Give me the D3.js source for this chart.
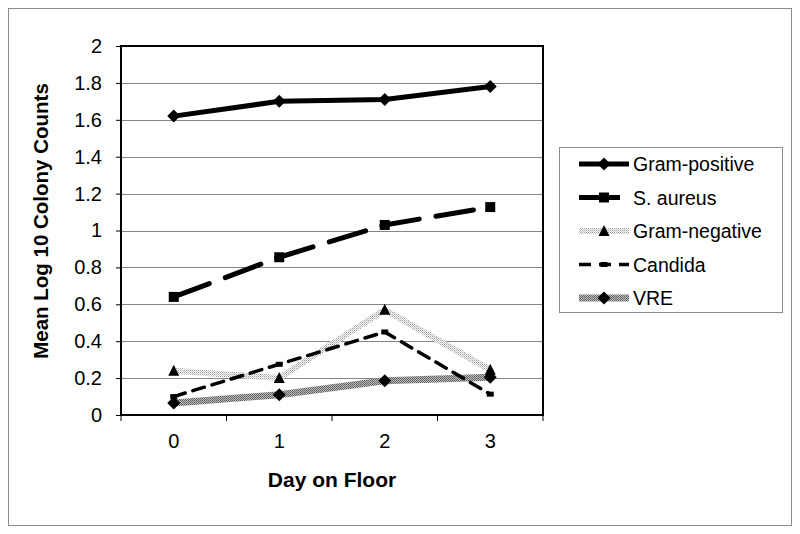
<!DOCTYPE html>
<html><head><meta charset="utf-8">
<script src="https://cdn.jsdelivr.net/npm/d3@7"></script>
<style>body{margin:0;background:#fff}svg{display:block;font-family:"Liberation Sans",Arial,sans-serif}</style>
</head><body><svg id="c" width="800" height="534"></svg>
<script>
const days = ["0","1","2","3"];
const yTicks = [0,0.2,0.4,0.6,0.8,1,1.2,1.4,1.6,1.8,2];
const seriesNames = ["Gram-positive","S. aureus","Gram-negative","Candida","VRE"];
const gramPositive = [1.62,1.70,1.71,1.78];
const sAureus = [0.64,0.855,1.03,1.127];
const gramNegative = [0.24,0.20,0.57,0.245];
const candida = [0.10,0.275,0.45,0.113];
const vre = [0.065,0.11,0.186,0.204];

const svg = d3.select("#c");
const defs = svg.append("defs");
const p1 = defs.append("pattern").attr("id","pDots").attr("patternUnits","userSpaceOnUse").attr("width",2).attr("height",2);
p1.append("rect").attr("width",2).attr("height",2).attr("fill","#ffffff");
p1.append("rect").attr("width",1).attr("height",1).attr("fill","#9a9a9a");
p1.append("rect").attr("x",1).attr("y",1).attr("width",1).attr("height",1).attr("fill","#c8c8c8");
const p2 = defs.append("pattern").attr("id","pDense").attr("patternUnits","userSpaceOnUse").attr("width",2).attr("height",2);
p2.append("rect").attr("width",2).attr("height",2).attr("fill","#bdbdbd");
p2.append("rect").attr("width",1).attr("height",1).attr("fill","#5a5a5a");
p2.append("rect").attr("x",1).attr("y",1).attr("width",1).attr("height",1).attr("fill","#6a6a6a");

// outer border
svg.append("rect").attr("x",8.5).attr("y",8.5).attr("width",783).attr("height",517)
  .attr("fill","none").attr("stroke","#8c8c8c").attr("stroke-width",1);

const L=121, R=543, T=46, B=415;
const x = d3.scaleBand().domain(days).range([L,R]);
const y = d3.scaleLinear().domain([0,2]).range([B,T]);

// gridlines
svg.append("g").selectAll("line").data(yTicks.filter(v=>v>0&&v<2)).join("line")
  .attr("x1",L).attr("x2",R).attr("y1",d=>Math.round(y(d))+0.5).attr("y2",d=>Math.round(y(d))+0.5)
  .attr("stroke","#858585").attr("stroke-width",1);

// y axis
const yAxis = d3.axisLeft(y).tickValues(yTicks).tickSize(5).tickPadding(14).tickFormat(d=>String(d));
const gy = svg.append("g").attr("transform",`translate(${L},0)`).call(yAxis);
gy.select(".domain").remove();
gy.selectAll("line").attr("stroke","#000");
gy.selectAll("text").attr("font-size","20px").attr("fill","#000").attr("font-family","Liberation Sans, Arial, sans-serif");

// x axis
const xAxis = d3.axisBottom(x).tickSize(0).tickPadding(19);
const gx = svg.append("g").attr("transform",`translate(0,${B})`).call(xAxis);
gx.select(".domain").remove();
gx.selectAll("text").attr("font-size","20px").attr("fill","#000").attr("font-family","Liberation Sans, Arial, sans-serif");
// x ticks at category boundaries
const bounds = days.map(d=>x(d)).concat([x(days[days.length-1])+x.bandwidth()]);
svg.append("g").selectAll("line").data(bounds).join("line")
  .attr("x1",d=>d).attr("x2",d=>d).attr("y1",B).attr("y2",B+6).attr("stroke","#000");

// plot border
svg.append("rect").attr("x",L).attr("y",T).attr("width",R-L).attr("height",B-T)
  .attr("fill","none").attr("stroke","#000").attr("stroke-width",2);

// titles
svg.append("text").attr("x",(L+R)/2).attr("y",487).attr("text-anchor","middle")
  .attr("font-size","21px").attr("font-weight","bold").text("Day on Floor");
svg.append("text").attr("transform","translate(48,221) rotate(-90)").attr("text-anchor","middle")
  .attr("font-size","20.5px").attr("font-weight","bold").text("Mean Log 10 Colony Counts");

const cx = d=>x(d)+x.bandwidth()/2;
const line = d3.line().x((v,i)=>cx(days[i])).y(v=>y(v));

const styles = [
  {vals:gramPositive, stroke:"#000", w:5, dash:null, marker:"diamond", ms:13},
  {vals:sAureus, stroke:"#000", w:5, dash:"38,17", marker:"square", ms:10},
  {vals:gramNegative, stroke:"url(#pDots)", w:6, dash:null, marker:"triangle", ms:11},
  {vals:candida, stroke:"#000", w:3.5, dash:"12,8", marker:"dash", ms:7},
  {vals:vre, stroke:"url(#pDense)", w:7, dash:null, marker:"diamond", ms:13}
];

function drawMarker(g, type, px, py, s){
  if(type==="diamond"){
    g.append("path").attr("d",`M${px},${py-s/2}L${px+s/2},${py}L${px},${py+s/2}L${px-s/2},${py}Z`).attr("fill","#000");
  } else if(type==="square"){
    g.append("rect").attr("x",px-s/2).attr("y",py-s/2).attr("width",s).attr("height",s).attr("fill","#000");
  } else if(type==="triangle"){
    g.append("path").attr("d",`M${px},${py-s*0.55}L${px+s/2},${py+s*0.45}L${px-s/2},${py+s*0.45}Z`).attr("fill","#000");
  } else if(type==="dash"){
    g.append("rect").attr("x",px-s/2).attr("y",py-2.5).attr("width",s).attr("height",5).attr("fill","#000");
  }
}

const order = [4,2,3,1,0];
order.forEach(i=>{
  const s = styles[i];
  const g = svg.append("g");
  const p = g.append("path").attr("d",line(s.vals)).attr("fill","none")
    .attr("stroke",s.stroke).attr("stroke-width",s.w).attr("stroke-linejoin","round");
  if(s.dash) p.attr("stroke-dasharray",s.dash).attr("stroke-linecap","round");
  s.vals.forEach((v,j)=>drawMarker(g,s.marker,cx(days[j]),y(v),s.ms));
});

// legend
const lg = svg.append("g");
lg.append("rect").attr("x",559.5).attr("y",147.5).attr("width",223).attr("height",165)
  .attr("fill","#fff").attr("stroke","#8c8c8c").attr("stroke-width",1);
const ly = [164,197.5,231,264.5,298];
seriesNames.forEach((n,i)=>{
  const s = styles[i];
  const g = lg.append("g");
  const l = g.append("line").attr("x1",579).attr("x2",629).attr("y1",ly[i]).attr("y2",ly[i])
    .attr("stroke",s.stroke).attr("stroke-width",s.w);
  if(s.dash){ l.attr("stroke-dasharray",s.dash).attr("stroke-linecap","butt"); }
  if(i===1){ l.attr("x2",620).attr("stroke-dasharray",null); }
  drawMarker(g,s.marker,604,ly[i],s.ms);
  g.append("text").attr("x",633).attr("y",ly[i]+7).attr("font-size","19.5px").attr("fill","#000").text(n);
});
</script></body></html>
